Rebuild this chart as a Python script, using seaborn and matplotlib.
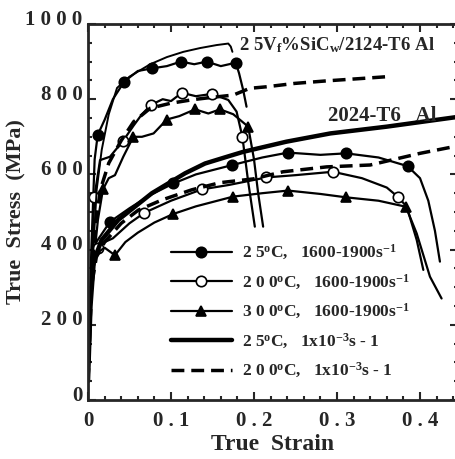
import matplotlib
matplotlib.use("Agg")
import matplotlib.pyplot as plt
import matplotlib.transforms as mtransforms
from matplotlib.lines import Line2D
from matplotlib.ticker import MultipleLocator
import seaborn as sns

# composite (25 vol% SiCw / 2124-T6), dynamic tests
comp25_x = [0.0, 0.004, 0.008, 0.0117, 0.02, 0.03, 0.0437, 0.06, 0.077, 0.095, 0.112, 0.128, 0.143, 0.16, 0.178, 0.182, 0.187, 0.191]
comp25_y = [50, 400, 640, 705, 745, 800, 847, 875, 882, 888, 900, 893, 900, 888, 897, 869, 824, 780]
comp25_mk = [3, 6, 8, 10, 12, 14]

comp200_x = [0.0, 0.004, 0.0076, 0.0145, 0.0265, 0.0425, 0.055, 0.065, 0.076, 0.09, 0.1, 0.113, 0.13, 0.149, 0.169, 0.179, 0.186, 0.193, 0.201]
comp200_y = [50, 350, 539, 638, 647, 690, 730, 760, 785, 800, 795, 817, 808, 814, 798, 767, 700, 580, 461]
comp200_mk = [2, 5, 8, 11, 13, 16]

comp300_x = [0.0, 0.005, 0.012, 0.018, 0.025, 0.0325, 0.0425, 0.0546, 0.065, 0.079, 0.095, 0.11, 0.129, 0.145, 0.159, 0.175, 0.193, 0.2, 0.205, 0.211]
comp300_y = [50, 330, 480, 560, 590, 598, 647, 700, 700, 709, 746, 755, 773, 762, 773, 760, 727, 640, 550, 461]
comp300_mk = [3, 7, 10, 12, 14, 16]

# composite, quasi-static
compqs25_x = [0.0, 0.005, 0.0105, 0.0165, 0.025, 0.035, 0.05, 0.075, 0.095, 0.115, 0.135, 0.155, 0.169, 0.172, 0.174]
compqs25_y = [50, 350, 560, 665, 760, 830, 860, 893, 912, 926, 936, 944, 948, 940, 926]

compqs200_x = [0.0, 0.004, 0.008, 0.015, 0.025, 0.04, 0.055, 0.075, 0.099, 0.127, 0.15, 0.175, 0.195, 0.215, 0.249, 0.289, 0.329, 0.361]
compqs200_y = [50, 300, 450, 560, 630, 690, 740, 776, 789, 799, 805, 811, 829, 833, 842, 849, 855, 860]

# 2024-T6 Al, dynamic tests
al25_x = [0.0, 0.004, 0.01, 0.0265, 0.05, 0.075, 0.103, 0.13, 0.174, 0.21, 0.241, 0.28, 0.311, 0.35, 0.385, 0.4, 0.41, 0.418, 0.424]
al25_y = [50, 330, 420, 474, 510, 545, 576, 600, 625, 645, 658, 652, 656, 645, 622, 590, 530, 450, 368]
al25_mk = [3, 6, 8, 10, 12, 14]

al200_x = [0.0, 0.004, 0.0124, 0.02, 0.03, 0.05, 0.068, 0.1, 0.137, 0.17, 0.215, 0.25, 0.295, 0.33, 0.36, 0.374, 0.384, 0.396, 0.404]
al200_y = [50, 330, 403, 420, 430, 470, 498, 530, 560, 572, 592, 598, 607, 590, 565, 539, 514, 426, 346]
al200_mk = [2, 6, 8, 10, 12, 15]

al300_x = [0.0, 0.004, 0.01, 0.02, 0.0325, 0.045, 0.06, 0.08, 0.103, 0.13, 0.175, 0.21, 0.241, 0.28, 0.311, 0.35, 0.383, 0.396, 0.412, 0.426]
al300_y = [50, 320, 390, 405, 385, 420, 445, 472, 495, 515, 541, 550, 557, 548, 539, 530, 514, 443, 328, 270]
al300_mk = [4, 8, 10, 12, 14, 16]

# 2024-T6 Al, quasi-static
alqs25_x = [0.0, 0.003, 0.007, 0.0165, 0.0365, 0.077, 0.117, 0.141, 0.169, 0.187, 0.239, 0.292, 0.36, 0.4458]
alqs25_y = [50, 250, 370, 426, 479, 550, 603, 629, 648, 660, 687, 709, 727, 753]

alqs200_x = [0.0, 0.004, 0.01, 0.02, 0.04, 0.0606, 0.089, 0.125, 0.159, 0.199, 0.235, 0.2875, 0.34, 0.4, 0.4458]
alqs200_y = [50, 300, 380, 420, 470, 505, 532, 559, 578, 588, 607, 620, 625, 656, 676]

legend_labels = [
    "2 5$^{o}$C,   1600-1900s$^{-1}$",
    "2 0 0$^{o}$C,   1600-1900s$^{-1}$",
    "3 0 0$^{o}$C,   1600-1900s$^{-1}$",
    "2 5$^{o}$C,   1x10$^{-3}$s - 1",
    "2 0 0$^{o}$C,   1x10$^{-3}$s - 1",
]
x_ticks = [0, 0.1, 0.2, 0.3, 0.4]
x_ticklabels = ["0", "0 . 1", "0 . 2", "0 . 3", "0 . 4"]
y_ticks = [0, 200, 400, 600, 800, 1000]
y_ticklabels = ["0", "2 0 0", "4 0 0", "6 0 0", "8 0 0", "1 0 0 0"]

sns.set_style("ticks")
plt.rcParams['font.family'] = ['Liberation Serif', 'DejaVu Serif']
plt.rcParams['font.weight'] = 'bold'
plt.rcParams['mathtext.fontset'] = 'custom'
plt.rcParams['mathtext.rm'] = 'Liberation Serif:bold'
plt.rcParams['mathtext.it'] = 'Liberation Serif:bold'
plt.rcParams['mathtext.bf'] = 'Liberation Serif:bold'
plt.rcParams['mathtext.default'] = 'regular'

fig = plt.figure(figsize=(4.56, 4.59), dpi=100)
ax = fig.add_axes([88 / 456, 59 / 459, 370 / 456, 376 / 459])

dyn_style = dict(color='black', lw=1.6, sort=False, estimator=None, ax=ax)
mk_common = dict(ms=7.5, mec='black', mew=1.2)

sns.lineplot(x=comp25_x, y=comp25_y, marker='o', mfc='black', markevery=comp25_mk, **mk_common, **dyn_style)
sns.lineplot(x=comp200_x, y=comp200_y, marker='o', mfc='white', markevery=comp200_mk, **mk_common, **dyn_style)
sns.lineplot(x=comp300_x, y=comp300_y, marker='^', mfc='black', markevery=comp300_mk, **mk_common, **dyn_style)
sns.lineplot(x=al25_x, y=al25_y, marker='o', mfc='black', markevery=al25_mk, **mk_common, **dyn_style)
sns.lineplot(x=al200_x, y=al200_y, marker='o', mfc='white', markevery=al200_mk, **mk_common, **dyn_style)
sns.lineplot(x=al300_x, y=al300_y, marker='^', mfc='black', markevery=al300_mk, **mk_common, **dyn_style)

# quasi-static curves
sns.lineplot(x=compqs25_x, y=compqs25_y, color='black', lw=1.4, sort=False, estimator=None, ax=ax)
sns.lineplot(x=alqs25_x, y=alqs25_y, color='black', lw=3.2, sort=False, estimator=None, ax=ax)
sns.lineplot(x=compqs200_x, y=compqs200_y, color='black', lw=2.5, ls=(0, (3.7, 2)), sort=False, estimator=None, ax=ax)
sns.lineplot(x=alqs200_x, y=alqs200_y, color='black', lw=2.5, ls=(0, (3.7, 2)), sort=False, estimator=None, ax=ax)

ax.set_xlim(0, 370 / 830)
ax.set_ylim(0, 1000)
ax.set_xticks(x_ticks)
ax.set_xticklabels(x_ticklabels)
ax.set_yticks(y_ticks)
ax.set_yticklabels(y_ticklabels)
ax.xaxis.set_minor_locator(MultipleLocator(0.02))
ax.yaxis.set_minor_locator(MultipleLocator(50))
ax.tick_params(which='both', direction='in', top=True, right=True, width=1.5, labelsize=15)
ax.tick_params(which='major', length=6)
ax.tick_params(which='minor', length=3)
ax.tick_params(axis='x', pad=8)
ax.tick_params(axis='y', pad=4)
for s in ax.spines.values():
    s.set_linewidth(2)
    s.set_visible(True)

shift = mtransforms.ScaledTranslation(0, 5 / 72, fig.dpi_scale_trans)
for lab in ax.get_yticklabels():
    lab.set_transform(lab.get_transform() + shift)

ax.set_xlabel("True  Strain", fontsize=17, fontweight='bold', labelpad=2)
ax.set_ylabel("True  Stress  (MPa)", fontsize=16, fontweight='bold', labelpad=-1)

ax.text(0.182, 944, "2 5V$_f$%SiC$_w$/2124-T6 Al", fontsize=13.5, ha='left', va='center')
ax.text(0.289, 755, "2024-T6   Al", fontsize=15, ha='left', va='center')

handles = [
    Line2D([], [], color='black', lw=1.6, marker='o', mfc='black', **mk_common),
    Line2D([], [], color='black', lw=1.6, marker='o', mfc='white', **mk_common),
    Line2D([], [], color='black', lw=1.6, marker='^', mfc='black', **mk_common),
    Line2D([], [], color='black', lw=3.2),
    Line2D([], [], color='black', lw=2.5, ls=(0, (3.7, 2))),
]
ax.legend(handles, legend_labels, loc='upper left', bbox_to_anchor=(171 / 456, 1 - 243 / 459),
          bbox_transform=fig.transFigure, frameon=False, fontsize=12.5, handlelength=3.5,
          handletextpad=0.6, labelspacing=0.6, borderpad=0, borderaxespad=0, numpoints=1)

fig.savefig("out.png", dpi=100)
